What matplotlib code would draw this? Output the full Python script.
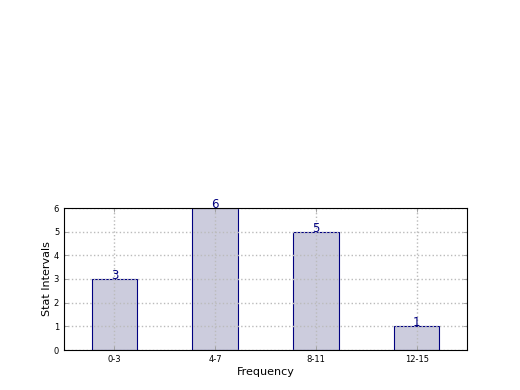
import matplotlib
matplotlib.use("Agg")
import matplotlib.pyplot as plt
import numpy as np

# data
intervals = ["0-3", "4-7", "8-11", "12-15"]
counts = [3, 6, 5, 1]

plt.rcParams["font.family"] = "DejaVu Sans"
plt.rcParams["xtick.direction"] = "in"
plt.rcParams["ytick.direction"] = "in"
plt.rcParams["xtick.top"] = True
plt.rcParams["ytick.right"] = True

fig = plt.figure(figsize=(5.2, 3.9), dpi=100)
ax = fig.add_axes([64/520, 40/390, 403/520, 142/390])

x = np.arange(len(intervals))
bars = ax.bar(x, counts, width=0.45, color="#ccccdd", edgecolor="navy", linewidth=0.8, zorder=1)

for xi, c in zip(x, counts):
    ax.text(xi, c - 0.12, str(c), ha="center", va="bottom", color="navy", fontsize=8.5, zorder=3)

ax.set_xlim(-0.5, 3.5)
ax.set_ylim(0, 6)
ax.set_xticks(x)
ax.set_xticklabels(intervals, fontsize=6)
ax.set_yticks(range(0, 7))
ax.tick_params(axis="y", labelsize=6)
ax.tick_params(length=3, width=0.6, color="#999999")
ax.grid(True, linestyle=":", color="#bbbbbb", linewidth=1, zorder=2)
ax.set_axisbelow(False)
for s in ax.spines.values():
    s.set_linewidth(0.8)
    s.set_zorder(4)

ax.set_xlabel("Frequency", fontsize=8, labelpad=2)
ax.set_ylabel("Stat Intervals", fontsize=8, labelpad=1)

fig.savefig("out.png", dpi=100)
